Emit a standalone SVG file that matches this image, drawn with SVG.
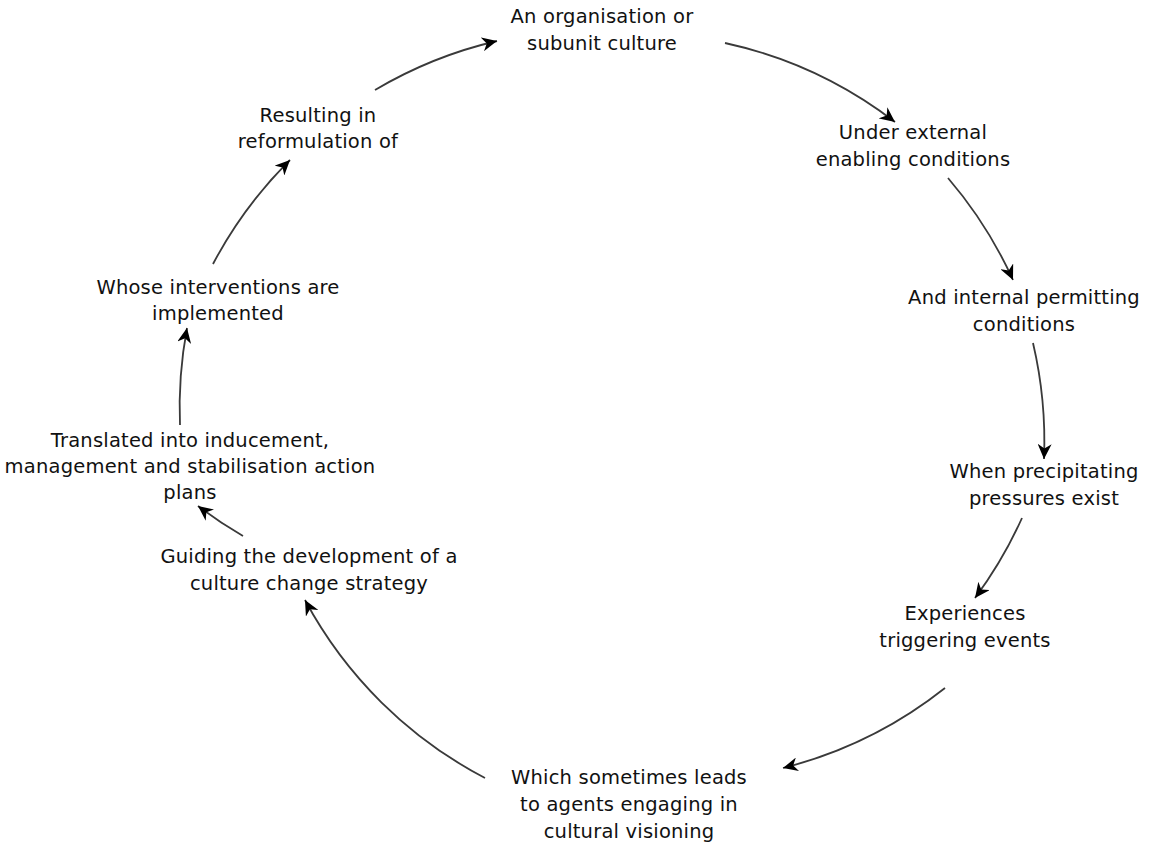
<svg xmlns="http://www.w3.org/2000/svg" width="1155" height="850" viewBox="0 0 1155 850">
  <style>
    .lbl { font-family: "DejaVu Sans", Verdana, sans-serif; font-size: 19.5px; letter-spacing: 0.2px; fill: #111; text-anchor: middle; }
    .arc { fill: none; stroke: #3a3a3a; stroke-width: 1.8; marker-end: url(#head); }
  </style>
  <defs>
    <marker id="head" markerUnits="userSpaceOnUse" markerWidth="18" markerHeight="14" refX="15" refY="7" orient="auto">
      <path d="M0,0 L15,7 L0,14 L4.5,7 Z" fill="#000"/>
    </marker>
  </defs>
  <rect width="1155" height="850" fill="#fff"/>

  <!-- cycle connectors, running clockwise -->
  <g id="connectors">
    <path class="arc" d="M725,43 A430,430 0 0 1 895,122"/>
    <path class="arc" d="M948,178 A430,430 0 0 1 1013,280"/>
    <path class="arc" d="M1033,343 A430,430 0 0 1 1044,459"/>
    <path class="arc" d="M1022,518 A430,430 0 0 1 975,598"/>
    <path class="arc" d="M945,688 A430,430 0 0 1 783,768"/>
    <path class="arc" d="M485,778 A430,430 0 0 1 305,600"/>
    <path class="arc" d="M243,536 A430,430 0 0 1 198,506"/>
    <path class="arc" d="M180,425 A430,430 0 0 1 187,328"/>
    <path class="arc" d="M213,264 A430,430 0 0 1 290,160"/>
    <path class="arc" d="M375,90 A430,430 0 0 1 497,41"/>
  </g>

  <g id="n1"><text class="lbl" x="602" y="23">An organisation or<tspan x="602" dy="27">subunit culture</tspan></text></g>
  <g id="n2"><text class="lbl" x="913" y="139">Under external<tspan x="913" dy="27">enabling conditions</tspan></text></g>
  <g id="n3"><text class="lbl" x="1024" y="304">And internal permitting<tspan x="1024" dy="27">conditions</tspan></text></g>
  <g id="n4"><text class="lbl" x="1044" y="478">When precipitating<tspan x="1044" dy="27">pressures exist</tspan></text></g>
  <g id="n5"><text class="lbl" x="965" y="620">Experiences<tspan x="965" dy="27">triggering events</tspan></text></g>
  <g id="n6"><text class="lbl" x="629" y="784">Which sometimes leads<tspan x="629" dy="27">to agents engaging in</tspan><tspan x="629" dy="27">cultural visioning</tspan></text></g>
  <g id="n7"><text class="lbl" x="309" y="563">Guiding the development of a<tspan x="309" dy="27">culture change strategy</tspan></text></g>
  <g id="n8"><text class="lbl" x="190" y="447">Translated into inducement,<tspan x="190" dy="26">management and stabilisation action</tspan><tspan x="190" dy="26">plans</tspan></text></g>
  <g id="n9"><text class="lbl" x="218" y="294">Whose interventions are<tspan x="218" dy="26">implemented</tspan></text></g>
  <g id="n10"><text class="lbl" x="318" y="122">Resulting in<tspan x="318" dy="26">reformulation of</tspan></text></g>
</svg>
